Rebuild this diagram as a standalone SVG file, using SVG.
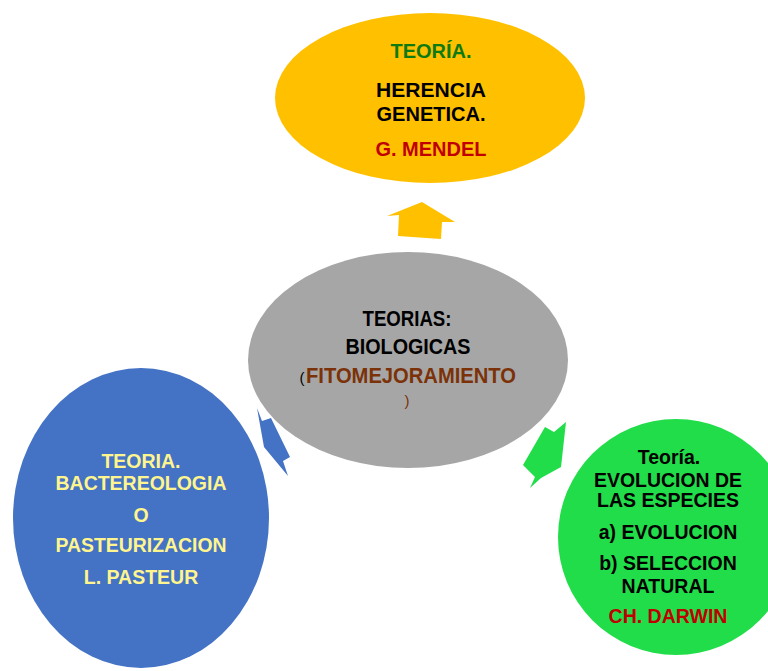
<svg xmlns="http://www.w3.org/2000/svg" width="768" height="671" viewBox="0 0 768 671">
<style>
text{font-family:"Liberation Sans",Arial,sans-serif;font-weight:bold;text-anchor:middle}
.t20{font-size:20px}
.t22{font-size:22px}
.t19{font-size:19.5px}
.blk{fill:#000}
.red{fill:#C00000}
.grn{fill:#0E7A12}
.yel{fill:#FFF58F}
.brn{fill:#7B3208}
.thin{font-weight:normal}
</style>
<rect width="768" height="671" fill="#fff"/>
<g id="connectors">
<polygon fill="#FFC000" points="422,202 455,222 442,222 441,239 398,236 399,215 387,216"/>
<polygon fill="#4472C4" points="257,408 262,421 271,418 290,457 283,461 288,476 264,447"/>
<polygon fill="#22DD4A" points="545,427 554,432 566,422 561,467 541,478 530,488 535,477 523,465"/>
</g>
<g id="node-mendel">
<ellipse cx="430" cy="98" rx="155" ry="85" fill="#FFC000"/>
<text class="t20 grn" x="431" y="58">TEORÍA.</text>
<text class="t20 blk" x="431" y="97" textLength="110" lengthAdjust="spacingAndGlyphs">HERENCIA</text>
<text class="t20 blk" x="431" y="121">GENETICA.</text>
<text class="t20 red" x="431" y="156">G. MENDEL</text>
</g>
<g id="node-center">
<ellipse cx="408" cy="360" rx="160" ry="108" fill="#A6A6A6"/>
<text class="t22 blk" x="407" y="326" textLength="89" lengthAdjust="spacingAndGlyphs">TEORIAS:</text>
<text class="t22 blk" x="408" y="354" textLength="125" lengthAdjust="spacingAndGlyphs">BIOLOGICAS</text>
<text x="302" y="383" class="blk thin" style="font-size:15px">(</text>
<text class="t22 brn" x="411" y="383" textLength="210" lengthAdjust="spacingAndGlyphs">FITOMEJORAMIENTO</text>
<text x="407" y="406" class="brn thin" style="font-size:15px">)</text>
</g>
<g id="node-pasteur">
<ellipse cx="141" cy="518" rx="128" ry="150" fill="#4472C4"/>
<text class="t19 yel" x="141" y="468">TEORIA.</text>
<text class="t19 yel" x="141" y="490" textLength="171" lengthAdjust="spacingAndGlyphs">BACTEREOLOGIA</text>
<text class="t19 yel" x="141" y="522">O</text>
<text class="t19 yel" x="141" y="552" textLength="171" lengthAdjust="spacingAndGlyphs">PASTEURIZACION</text>
<text class="t19 yel" x="141" y="584">L. PASTEUR</text>
</g>
<g id="node-darwin">
<ellipse cx="676" cy="537" rx="118" ry="118" fill="#22DD4A"/>
<text class="t19 blk" x="669" y="464">Teoría.</text>
<text class="t19 blk" x="668" y="487" textLength="148" lengthAdjust="spacingAndGlyphs">EVOLUCION DE</text>
<text class="t19 blk" x="668" y="507">LAS ESPECIES</text>
<text class="t19 blk" x="668" y="539">a) EVOLUCION</text>
<text class="t19 blk" x="668" y="570">b) SELECCION</text>
<text class="t19 blk" x="668" y="593">NATURAL</text>
<text class="t19 red" x="668" y="623">CH. DARWIN</text>
</g>
</svg>
